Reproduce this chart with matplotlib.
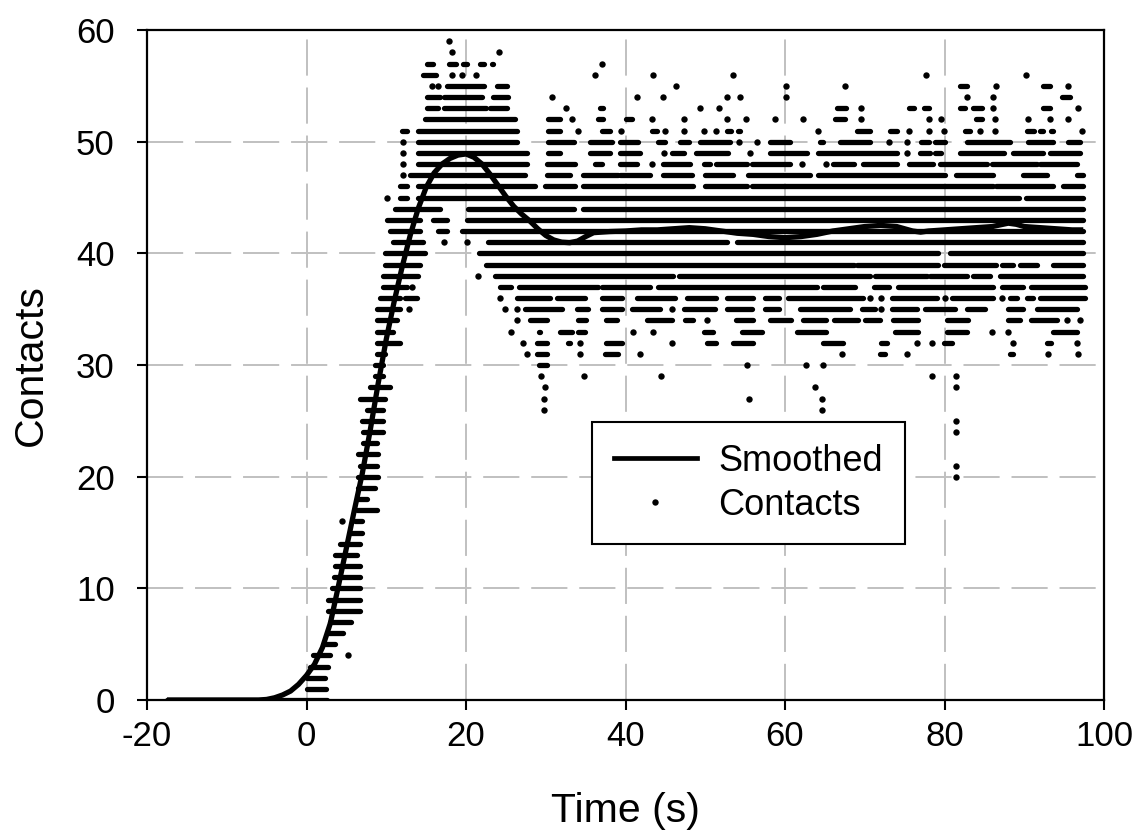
import numpy as np
import matplotlib
matplotlib.use("Agg")
import matplotlib.pyplot as plt
from matplotlib.lines import Line2D

plt.rcParams['font.family'] = ['Liberation Sans', 'DejaVu Sans']

# ---------------- data ----------------
x_ticks = [-20, 0, 20, 40, 60, 80, 100]
y_ticks = [0, 10, 20, 30, 40, 50, 60]

# Smoothed curve (time s, contacts)
smooth_t = [-17.5, -6, -5, -4, -3, -2, -1,
            0, 1, 2, 3, 4, 5, 6, 7, 8, 9, 10, 11, 12, 13, 14, 15, 16, 17, 18, 19,
            20, 21, 22, 23, 24, 25, 26, 27, 28, 29, 30, 31, 32, 33, 34, 35, 36,
            38, 40, 42, 44, 46, 48, 50, 52, 54, 56, 58, 60, 62, 64, 66, 68, 70,
            72, 74, 76, 77, 78, 80, 82, 84, 86, 88, 89, 90, 92, 94, 96, 97.4]
smooth_v = [0, 0, 0.05, 0.2, 0.45, 0.8, 1.4,
            2.2, 3.2, 4.7, 6.9, 10.2, 13.6, 17.0, 20.3, 24.2, 28.4, 32.3, 35.7,
            38.8, 41.6, 44.0, 45.9, 47.2, 48.0, 48.5, 48.8,
            48.9, 48.6, 48.0, 47.1, 46.1, 45.1, 44.2, 43.5, 42.9, 42.2, 41.6,
            41.2, 41.0, 40.95, 41.1, 41.5, 41.85,
            41.95, 42.0, 42.1, 42.1, 42.2, 42.3, 42.2, 42.0, 41.8, 41.7, 41.5,
            41.4, 41.5, 41.7, 42.0, 42.2, 42.4, 42.5, 42.4, 42.0, 41.9, 42.0,
            42.1, 42.2, 42.3, 42.4, 42.7, 42.6, 42.4, 42.3, 42.2, 42.1, 42.1]

# Raw contacts: (contact level, time start, time end) of observed runs of samples
rise_runs = [
    (0, -17.5, 2.6), (1, 0.0, 2.5), (2, 0.0, 2.3), (3, 0.4, 2.7),
    (4, 0.85, 2.9), (4, 5.2, 5.2), (5, 2.3, 3.6), (6, 2.7, 4.6), (7, 2.9, 5.6),
    (8, 2.75, 6.7), (9, 2.75, 6.7), (10, 3.2, 6.7), (11, 3.4, 6.7),
    (12, 3.6, 6.7), (13, 3.6, 6.3), (14, 4.2, 6.7), (15, 5.5, 6.9),
    (16, 4.4, 4.4), (16, 6.1, 6.9), (17, 6.3, 8.8), (18, 6.3, 7.6),
    (19, 6.5, 8.6), (20, 6.5, 9.0), (21, 6.7, 8.8), (22, 6.5, 9.0),
    (23, 7.1, 8.8), (24, 7.1, 9.6), (25, 6.9, 9.6), (26, 7.55, 9.6),
    (27, 6.7, 9.85), (28, 8.0, 10.5), (29, 8.6, 9.6), (30, 8.6, 9.6),
    (31, 8.8, 9.85), (32, 8.8, 11.7), (33, 8.8, 10.9), (34, 8.8, 11.3),
    (35, 8.8, 11.7), (35, 12.8, 12.8), (36, 9.2, 11.7), (36, 12.35, 13.8),
    (37, 9.6, 12.6), (37, 13.2, 13.2), (38, 9.6, 14.0), (39, 9.85, 14.2),
    (40, 9.85, 14.9), (41, 10.9, 14.65), (41, 17.2, 17.2), (41, 20.1, 20.1),
    (42, 10.5, 14.25), (42, 16.5, 17.6), (43, 10.06, 14.25), (43, 15.9, 17.6),
    (44, 11.1, 16.7), (45, 10.06, 10.06), (45, 11.7, 12.6), (46, 11.7, 12.6),
    (47, 12.1, 12.1), (48, 12.1, 12.1), (49, 12.1, 12.1), (50, 12.1, 12.1),
    (51, 12.0, 12.6),
]

upper_runs = [
    (59, 17.9, 17.9),
    (58, 18.3, 18.3), (58, 24.1, 24.1),
    (57, 15.1, 15.9), (57, 17.9, 18.7), (57, 19.6, 20.1), (57, 21.8, 22.2),
    (57, 23.2, 23.4), (57, 37.0, 37.0),
    (56, 14.6, 16.3), (56, 18.2, 18.2), (56, 19.5, 19.5), (56, 21.2, 21.2),
    (56, 36.2, 36.2), (56, 43.4, 43.4), (56, 53.5, 53.5), (56, 77.7, 77.7),
    (56, 90.2, 90.2),
    (55, 15.7, 15.7), (55, 16.5, 16.5), (55, 17.6, 22.2), (55, 23.9, 25.1),
    (55, 46.3, 46.3), (55, 60.1, 60.1), (55, 67.5, 67.5), (55, 82.0, 82.8),
    (55, 86.5, 86.5), (55, 92.3, 93.2), (55, 95.5, 95.5),
    (54, 15.1, 16.7), (54, 17.2, 22.0), (54, 23.4, 25.3), (54, 30.8, 30.8),
    (54, 41.4, 41.4), (54, 44.7, 44.7), (54, 52.7, 52.7), (54, 54.4, 54.4),
    (54, 60.1, 60.1), (54, 82.8, 82.8), (54, 86.1, 86.1), (54, 94.7, 95.7),
    (53, 15.1, 16.5), (53, 17.2, 22.5), (53, 23.0, 25.1), (53, 32.6, 32.6),
    (53, 36.8, 37.2), (53, 49.4, 49.4), (53, 51.7, 51.7), (53, 66.5, 67.7),
    (53, 69.5, 69.5), (53, 75.6, 76.2), (53, 77.4, 78.0), (53, 82.0, 82.6),
    (53, 83.6, 84.7), (53, 86.1, 86.1), (53, 92.3, 93.2), (53, 96.7, 96.7),
    (52, 14.9, 26.1), (52, 30.3, 31.8), (52, 33.3, 33.3), (52, 36.6, 37.2),
    (52, 40.1, 40.8), (52, 43.3, 43.3), (52, 47.3, 47.3), (52, 52.7, 52.7),
    (52, 55.1, 55.1), (52, 58.8, 58.8), (52, 62.3, 62.3), (52, 66.3, 67.5),
    (52, 69.5, 69.5), (52, 78.0, 78.0), (52, 79.6, 79.6), (52, 84.0, 84.7),
    (52, 86.3, 86.3), (52, 90.5, 90.5), (52, 93.2, 93.2), (52, 95.5, 95.5),
    (51, 14.0, 26.4), (51, 30.3, 31.8), (51, 34.1, 34.1), (51, 37.0, 38.1),
    (51, 39.4, 39.4), (51, 43.3, 43.9), (51, 44.95, 44.95), (51, 47.3, 47.3),
    (51, 49.8, 49.8), (51, 51.4, 51.4), (51, 52.7, 53.2), (51, 54.1, 54.4),
    (51, 64.1, 64.1), (51, 69.0, 70.7), (51, 73.2, 74.0), (51, 75.5, 75.5),
    (51, 78.0, 78.0), (51, 79.9, 79.9), (51, 82.6, 83.2), (51, 84.45, 84.45),
    (51, 86.3, 86.3), (51, 90.3, 91.2), (51, 92.0, 92.4), (51, 93.4, 93.6),
    (51, 97.2, 97.2),
    (50, 14.0, 26.4), (50, 30.3, 33.5), (50, 35.5, 38.3), (50, 39.3, 41.6),
    (50, 44.1, 45.0), (50, 46.8, 47.9), (50, 49.3, 53.1), (50, 54.2, 54.2),
    (50, 56.5, 56.5), (50, 58.1, 60.6), (50, 64.4, 64.8), (50, 66.9, 70.7),
    (50, 73.0, 73.0), (50, 75.3, 75.3), (50, 77.1, 78.0), (50, 78.8, 80.1),
    (50, 82.8, 88.2), (50, 90.5, 93.6), (50, 95.5, 97.0),
    (49, 14.0, 27.6), (49, 30.3, 31.8), (49, 35.5, 38.1), (49, 39.3, 41.8),
    (49, 44.8, 44.8), (49, 45.8, 47.3), (49, 48.9, 52.9), (49, 55.6, 55.6),
    (49, 58.1, 62.7), (49, 64.2, 74.0), (49, 75.3, 75.3), (49, 76.9, 78.2),
    (49, 78.8, 79.6), (49, 82.0, 87.4), (49, 88.6, 92.4), (49, 93.2, 97.0),
    (48, 14.0, 27.6), (48, 30.1, 33.7), (48, 36.2, 37.0), (48, 39.3, 41.4),
    (48, 43.3, 43.3), (48, 44.75, 48.1), (48, 49.8, 50.6), (48, 51.4, 55.2),
    (48, 55.8, 60.6), (48, 62.1, 62.1), (48, 65.2, 65.2), (48, 66.0, 68.6),
    (48, 69.8, 74.0), (48, 75.5, 78.6), (48, 79.4, 85.3), (48, 85.9, 91.6),
    (48, 92.0, 96.6),
    (47, 13.0, 27.4), (47, 30.1, 33.0), (47, 34.7, 39.1), (47, 39.3, 43.1),
    (47, 44.75, 48.3), (47, 50.0, 53.5), (47, 55.4, 63.1), (47, 64.2, 80.1),
    (47, 81.5, 86.1), (47, 89.9, 92.8), (47, 96.6, 97.4),
    (46, 14.0, 28.7), (46, 29.9, 33.7), (46, 34.7, 48.5), (46, 50.0, 55.2),
    (46, 55.8, 86.1), (46, 86.5, 93.6), (46, 94.9, 97.4),
]

core_runs = [
    (45, 14.0, 89.4), (45, 90.2, 97.4),
    (44, 20.3, 33.5), (44, 34.7, 97.4),
    (43, 20.1, 97.4),
    (42, 19.5, 97.4),
    (41, 22.8, 52.7), (41, 54.0, 97.4),
    (40, 21.6, 79.2), (40, 80.7, 97.4),
    (39, 22.5, 68.6), (39, 69.0, 79.2), (39, 79.9, 86.5), (39, 87.2, 88.6),
    (39, 89.5, 91.6), (39, 93.6, 97.4),
    (38, 21.55, 21.55), (38, 23.6, 46.0), (38, 46.7, 70.7), (38, 71.3, 77.8),
    (38, 78.2, 82.8), (38, 83.6, 85.7), (38, 87.0, 97.4),
]

lower_runs = [
    (37, 24.3, 25.7), (37, 26.6, 36.6), (37, 37.0, 43.1), (37, 44.1, 64.0),
    (37, 64.8, 68.8), (37, 71.1, 73.0), (37, 74.2, 86.1), (37, 87.2, 89.9),
    (37, 90.9, 97.6),
    (36, 24.3, 24.3), (36, 26.4, 30.5), (36, 31.4, 34.9), (36, 37.0, 39.5),
    (36, 41.4, 46.2), (36, 47.7, 51.4), (36, 52.7, 56.0), (36, 57.5, 59.2),
    (36, 60.4, 69.8), (36, 70.7, 70.7), (36, 72.1, 72.1), (36, 73.4, 79.0),
    (36, 80.1, 80.1), (36, 80.9, 86.1), (36, 87.2, 87.2), (36, 88.2, 89.1),
    (36, 90.3, 91.1), (36, 92.0, 97.6),
    (35, 24.9, 24.9), (35, 26.4, 26.4), (35, 27.4, 32.0), (35, 33.9, 35.3),
    (35, 37.0, 39.5), (35, 40.8, 44.3), (35, 45.8, 45.8), (35, 47.3, 51.2),
    (35, 52.7, 55.8), (35, 57.5, 59.2), (35, 61.9, 68.2), (35, 69.6, 71.3),
    (35, 72.1, 72.1), (35, 73.4, 76.5), (35, 77.6, 81.3), (35, 82.8, 85.1),
    (35, 88.0, 89.9), (35, 91.6, 96.6),
    (34, 26.4, 26.4), (34, 28.0, 30.1), (34, 34.1, 35.1), (34, 37.6, 38.9),
    (34, 42.7, 45.8), (34, 47.5, 48.5), (34, 50.2, 50.2), (34, 53.9, 56.0),
    (34, 58.1, 60.8), (34, 62.3, 65.2), (34, 66.1, 69.2), (34, 70.0, 71.9),
    (34, 73.6, 76.7), (34, 80.3, 83.0), (34, 88.0, 89.5), (34, 90.9, 94.1),
    (34, 95.3, 95.3), (34, 97.0, 97.0),
    (33, 25.7, 25.7), (33, 29.1, 29.3), (33, 31.8, 33.3), (33, 34.1, 34.9),
    (33, 41.0, 41.0), (33, 43.5, 43.5), (33, 49.8, 51.0), (33, 54.6, 57.1),
    (33, 61.5, 65.2), (33, 73.8, 76.7), (33, 80.3, 82.8), (33, 85.9, 85.9),
    (33, 88.0, 88.0), (33, 93.6, 96.6),
    (32, 27.2, 27.2), (32, 28.9, 30.1), (32, 32.8, 33.0), (32, 34.3, 34.3),
    (32, 37.6, 39.5), (32, 45.8, 45.8), (32, 50.2, 51.4), (32, 53.5, 56.0),
    (32, 64.8, 67.3), (32, 72.1, 72.75), (32, 76.5, 76.5), (32, 78.4, 78.4),
    (32, 79.9, 80.9), (32, 88.6, 88.6), (32, 92.8, 93.4), (32, 96.6, 96.6),
    (31, 27.6, 27.6), (31, 28.9, 30.1), (31, 34.3, 34.3), (31, 37.4, 39.1),
    (31, 41.8, 41.8), (31, 67.1, 67.1), (31, 71.9, 72.5), (31, 75.3, 75.3),
    (31, 88.2, 88.6), (31, 93.0, 93.0), (31, 96.8, 96.8),
    (30, 29.1, 30.1), (30, 55.2, 55.2), (30, 62.6, 62.6), (30, 64.8, 64.8),
    (29, 29.4, 29.4), (29, 34.8, 34.8), (29, 44.4, 44.4), (29, 78.4, 78.4),
    (29, 81.5, 81.5),
    (28, 29.9, 29.9), (28, 63.8, 63.8), (28, 81.5, 81.5),
    (27, 29.8, 29.8), (27, 55.5, 55.5), (27, 64.7, 64.7),
    (26, 29.8, 29.8), (26, 64.7, 64.7),
    (25, 81.5, 81.5), (24, 81.5, 81.5), (21, 81.4, 81.4), (20, 81.4, 81.4),
]

# ---------------- figure ----------------
W, H, DPI = 1139, 838, 100
fig = plt.figure(figsize=(W / DPI, H / DPI), dpi=DPI, facecolor='white')
ax = fig.add_axes([147 / W, 1 - 700 / H, (1104 - 147) / W, (700 - 30) / H])

DOT = 4.6  # dot diameter in points

all_runs = rise_runs + upper_runs + core_runs + lower_runs
seg = [r for r in all_runs if r[2] > r[1]]
single = [r for r in all_runs if r[2] <= r[1]]

lc = ax.hlines([r[0] for r in seg], [r[1] for r in seg], [r[2] for r in seg],
               colors='black', linewidth=3.8, zorder=3)
lc.set_capstyle('round')
ax.plot([r[1] for r in single], [r[0] for r in single], linestyle='none',
        marker='o', markersize=DOT, markeredgewidth=0, color='black', zorder=3)

ax.plot(smooth_t, smooth_v, color='black', linewidth=3.8, zorder=4,
        solid_joinstyle='round', solid_capstyle='butt')

ax.set_xlim(-20, 100)
ax.set_ylim(0, 60)
ax.set_xticks(x_ticks)
ax.set_yticks(y_ticks)
ax.set_xticklabels([str(v) for v in x_ticks])
ax.set_yticklabels([str(v) for v in y_ticks])

ax.set_axisbelow(True)
ax.grid(True, color='#c0c0c0', linewidth=1.4, linestyle=(0, (18.6, 6.1)))

for s in ax.spines.values():
    s.set_linewidth(1.6)
    s.set_color('black')

ax.tick_params(axis='both', which='major', direction='out', length=7.2,
               width=1.5, labelsize=25, colors='black')
ax.tick_params(axis='y', pad=16)
ax.tick_params(axis='x', pad=7.5)

ax.set_xlabel('Time (s)', fontsize=29.5)
ax.set_ylabel('Contacts', fontsize=29.5)
ax.xaxis.set_label_coords(0.5, -0.137)
ax.yaxis.set_label_coords(-0.101, 0.5)

handles = [Line2D([], [], color='black', linewidth=3.4),
           Line2D([], [], linestyle='none', marker='o', markersize=DOT,
                  markeredgewidth=0, color='black')]
leg = ax.legend(handles, ['Smoothed', 'Contacts'], loc='upper left',
                bbox_to_anchor=(0.465, 0.415), borderaxespad=0,
                fontsize=26, frameon=True, fancybox=False, framealpha=1,
                edgecolor='black', handlelength=2.3, handletextpad=0.6,
                borderpad=0.6, labelspacing=0.25)
leg.get_frame().set_linewidth(1.5)
leg.set_zorder(10)

fig.savefig('out.png', dpi=DPI, facecolor='white')
